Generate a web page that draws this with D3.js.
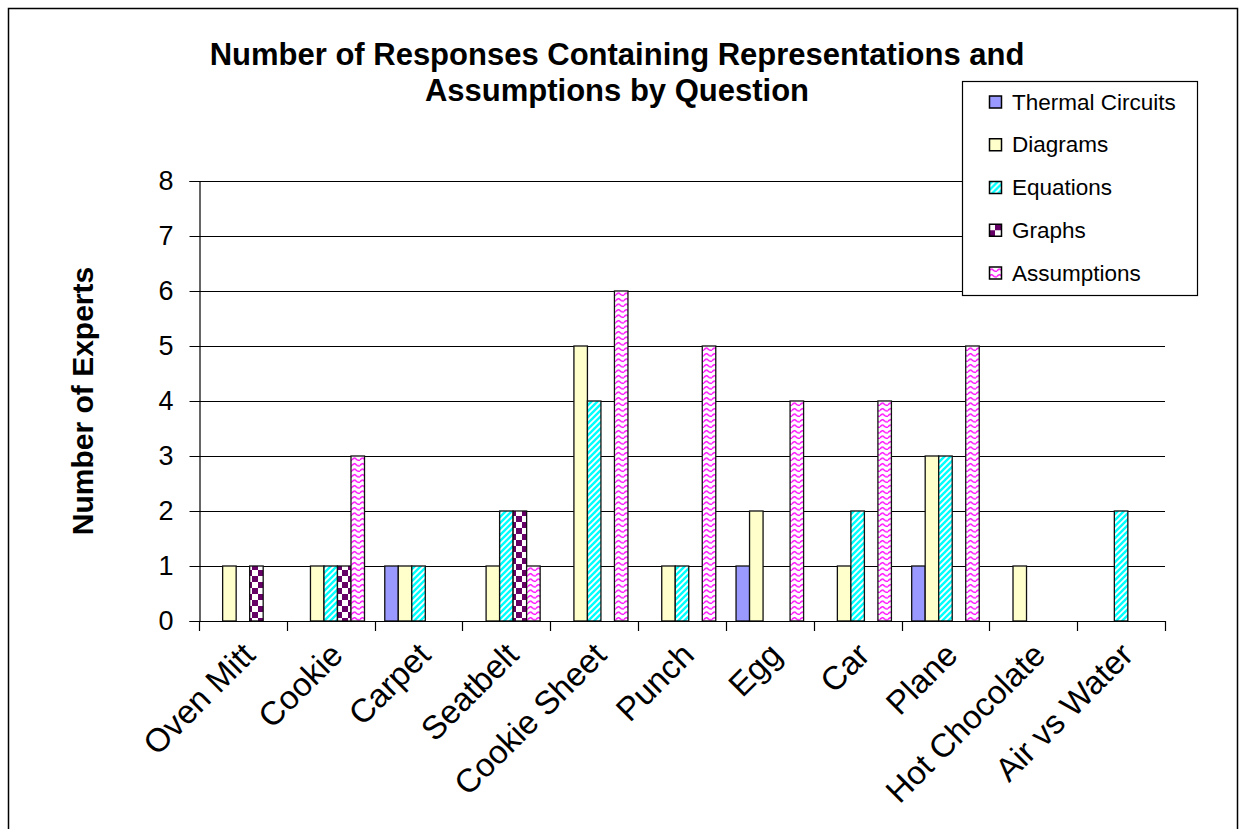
<!DOCTYPE html>
<html>
<head>
<meta charset="utf-8">
<script src="https://cdn.jsdelivr.net/npm/d3@7"></script>
<style>
  html, body { margin: 0; padding: 0; background: #fff; }
  svg { display: block; font-family: Arial, "Liberation Sans", Helvetica, sans-serif; }
</style>
</head>
<body>
<svg id="chart" width="1239" height="829"></svg>
<script>
// Questions on the x axis
const categories = ["Oven Mitt", "Cookie", "Carpet", "Seatbelt", "Cookie Sheet", "Punch",
                    "Egg", "Car", "Plane", "Hot Chocolate", "Air vs Water"];

// Number of experts per question, one array per series
const seriesNames = ["Thermal Circuits", "Diagrams", "Equations", "Graphs", "Assumptions"];
const thermalCircuits = [0, 0, 1, 0, 0, 0, 1, 0, 1, 0, 0];
const diagrams        = [1, 1, 1, 1, 5, 1, 2, 1, 3, 1, 0];
const equations       = [0, 1, 1, 2, 4, 1, 0, 2, 3, 0, 2];
const graphs          = [1, 1, 0, 2, 0, 0, 0, 0, 0, 0, 0];
const assumptions     = [0, 3, 0, 1, 6, 5, 4, 4, 5, 0, 0];

const yTicks = [0, 1, 2, 3, 4, 5, 6, 7, 8];

const titleLines = ["Number of Responses Containing Representations and",
                    "Assumptions by Question"];
const yAxisTitle = "Number of Experts";

const seriesValues = [thermalCircuits, diagrams, equations, graphs, assumptions];
const fills = ["#9999ff", "#ffffcc", "url(#pat-equations)", "url(#pat-graphs)", "url(#pat-assumptions)"];

const svg = d3.select("#chart");

// ---- fill patterns ----
const defs = svg.append("defs");

// cyan with white upward diagonal stripes
const pe = defs.append("pattern").attr("id", "pat-equations")
  .attr("patternUnits", "userSpaceOnUse").attr("width", 6).attr("height", 6);
pe.append("rect").attr("width", 6).attr("height", 6).attr("fill", "#00ffff");
pe.append("path").attr("d", "M-1,7 L7,-1 M-4,4 L4,-4 M2,10 L10,2")
  .attr("stroke", "#ffffff").attr("stroke-width", 1.8);

// dark purple / white checkerboard
const pg = defs.append("pattern").attr("id", "pat-graphs")
  .attr("patternUnits", "userSpaceOnUse").attr("width", 12).attr("height", 12);
pg.append("rect").attr("width", 12).attr("height", 12).attr("fill", "#ffffff");
pg.append("rect").attr("x", 0).attr("y", 0).attr("width", 6).attr("height", 6).attr("fill", "#660066");
pg.append("rect").attr("x", 6).attr("y", 6).attr("width", 6).attr("height", 6).attr("fill", "#660066");

// magenta waves on white
const pa = defs.append("pattern").attr("id", "pat-assumptions")
  .attr("patternUnits", "userSpaceOnUse").attr("width", 8).attr("height", 5.5);
pa.append("rect").attr("width", 8).attr("height", 5.5).attr("fill", "#ffffff");
pa.append("path").attr("d", "M0,3.5 Q2,0.5 4,2.5 T8,3.5")
  .attr("fill", "none").attr("stroke", "#ff00ff").attr("stroke-width", 1.4);

// ---- chart frame ----
svg.append("rect").attr("x", 8.5).attr("y", 8.5).attr("width", 1229).attr("height", 840)
  .attr("fill", "#fff").attr("stroke", "#000").attr("stroke-width", 1.5);

// ---- scales ----
const plot = { left: 199, right: 1165, top: 181, bottom: 621 };

const x = d3.scaleBand().domain(categories).range([plot.left, plot.right])
  .paddingInner(0).paddingOuter(0);
const xs = d3.scaleBand().domain(seriesNames).range([0, x.bandwidth()])
  .paddingInner(0).paddingOuter(0.75);
const y = d3.scaleLinear().domain([0, 8]).range([plot.bottom, plot.top]);

// ---- gridlines ----
svg.append("g").selectAll("line").data(yTicks.filter(d => d > 0)).join("line")
  .attr("x1", plot.left).attr("x2", plot.right)
  .attr("y1", d => Math.round(y(d)) + 0.5).attr("y2", d => Math.round(y(d)) + 0.5)
  .attr("stroke", "#000").attr("stroke-width", 1);

// ---- bars ----
const barData = [];
categories.forEach((c, i) => {
  seriesNames.forEach((s, j) => {
    const v = seriesValues[j][i];
    if (v > 0) barData.push({ c, s, v, j });
  });
});

svg.append("g").selectAll("rect").data(barData).join("rect")
  .attr("x", d => x(d.c) + xs(d.s))
  .attr("y", d => y(d.v))
  .attr("width", xs.bandwidth())
  .attr("height", d => y(0) - y(d.v))
  .attr("fill", d => fills[d.j])
  .attr("stroke", "#111").attr("stroke-width", 1.3);

// ---- axes ----
const yAxis = d3.axisLeft(y).tickValues(yTicks).tickFormat(d3.format("d"))
  .tickSize(10).tickPadding(16);
const gy = svg.append("g").attr("transform", `translate(${plot.left + 0.5},0)`).call(yAxis);
gy.select(".domain").attr("stroke", "#000").attr("stroke-width", 1.2);
gy.selectAll(".tick line").attr("stroke", "#000");
gy.selectAll("text").attr("font-size", 27).attr("fill", "#000")
  .attr("font-family", "Arial, 'Liberation Sans', sans-serif");

// x axis: baseline with ticks at category boundaries
const gx = svg.append("g");
gx.append("line").attr("x1", plot.left).attr("x2", plot.right)
  .attr("y1", plot.bottom + 0.5).attr("y2", plot.bottom + 0.5)
  .attr("stroke", "#000").attr("stroke-width", 1.2);
const boundaries = categories.map(c => x(c)).concat([plot.right]);
gx.selectAll("line.tk").data(boundaries).join("line").attr("class", "tk")
  .attr("x1", d => Math.round(d) + 0.5).attr("x2", d => Math.round(d) + 0.5)
  .attr("y1", plot.bottom).attr("y2", plot.bottom + 10)
  .attr("stroke", "#000").attr("stroke-width", 1.2);

gx.selectAll("text").data(categories).join("text")
  .attr("transform", d => `translate(${x(d) + x.bandwidth() / 2 + 14},${plot.bottom + 36}) rotate(-45)`)
  .attr("text-anchor", "end")
  .attr("font-size", 33)
  .attr("fill", "#000")
  .text(d => d);

// ---- titles ----
svg.append("text")
  .attr("transform", `translate(82,${(plot.top + plot.bottom) / 2}) rotate(-90)`)
  .attr("text-anchor", "middle").attr("dominant-baseline", "central")
  .attr("font-size", 30).attr("font-weight", "bold").attr("fill", "#000")
  .text(yAxisTitle);

svg.append("g").selectAll("text").data(titleLines).join("text")
  .attr("x", 617).attr("y", (d, i) => 65 + i * 36)
  .attr("text-anchor", "middle")
  .attr("font-size", 31).attr("font-weight", "bold").attr("fill", "#000")
  .text(d => d);

// ---- legend ----
const lg = svg.append("g");
lg.append("rect").attr("x", 962.5).attr("y", 81.5).attr("width", 235).attr("height", 214)
  .attr("fill", "#fff").attr("stroke", "#000").attr("stroke-width", 1.2);
const ly = d3.scalePoint().domain(seriesNames).range([102, 273]);
const items = lg.selectAll("g.item").data(seriesNames).join("g").attr("class", "item")
  .attr("transform", d => `translate(989,${ly(d)})`);
items.append("rect").attr("x", 0.5).attr("y", -6).attr("width", 12).attr("height", 12)
  .attr("fill", (d, i) => fills[i]).attr("stroke", "#000").attr("stroke-width", 1.5);
items.append("text").attr("x", 23).attr("y", 0).attr("dominant-baseline", "central")
  .attr("font-size", 22.5).attr("fill", "#000").text(d => d);
</script>
</body>
</html>
